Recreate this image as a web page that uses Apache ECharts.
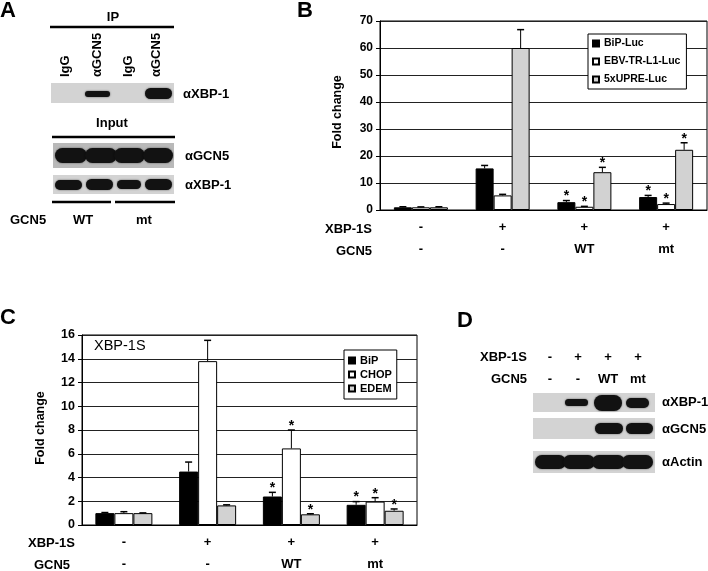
<!DOCTYPE html>
<html>
<head>
<meta charset="utf-8">
<script src="https://cdn.jsdelivr.net/npm/echarts@6/dist/echarts.min.js"></script>
<style>
  html, body { margin: 0; padding: 0; background: #fff; }
  #chart { width: 708px; height: 571px; }
</style>
</head>
<body>
<div id="chart"></div>
<script>
// row labels under the bars (shared by B and C)
const xbpRow = ['-', '+', '+', '+']
const gcn5Row = ['-', '-', 'WT', 'mt']

// panel B: luciferase reporters
const bNames = ['BiP-Luc', 'EBV-TR-L1-Luc', '5xUPRE-Luc']
const bipLuc = [1.0, 15.4, 2.9, 4.8]
const bipLucErr = [0.2, 1.1, 0.6, 0.6]
const ebvLuc = [1.0, 5.4, 1.2, 2.2]
const ebvLucErr = [0.15, 0.4, 0.15, 0.35]
const upreLuc = [1.0, 60.0, 14.0, 22.3]
const upreLucErr = [0.2, 6.8, 1.8, 2.6]
const bStars = [0, 0, 1, 1]
const bTicks = { min: 0, max: 70, interval: 10 }

// panel C: endogenous targets
const cNames = ['BiP', 'CHOP', 'EDEM']
const bip = [1.0, 4.5, 2.4, 1.7]
const bipErr = [0.05, 0.8, 0.35, 0.27]
const chop = [1.0, 13.8, 6.45, 1.97]
const chopErr = [0.12, 1.75, 1.55, 0.33]
const edem = [1.0, 1.65, 0.9, 1.2]
const edemErr = [0.02, 0.05, 0.05, 0.15]
const cStars = [0, 0, 1, 1]
const cTicks = { min: 0, max: 16, interval: 2 }

const FONT = 'Arial, "Liberation Sans", sans-serif'
const barFills = ['#000', '#fff', '#d2d2d2']

const chart = echarts.init(document.getElementById('chart'))

const text = (x, y, t, size, align = 'left', extra = {}) => ({
  type: 'text',
  x, y,
  rotation: extra.rotation || 0,
  style: {
    text: t,
    font: `${extra.weight || 'bold'} ${size}px ${FONT}`,
    fill: '#000',
    align,
    verticalAlign: extra.vAlign || 'middle'
  }
})

const line = (x1, y1, x2, y2, w = 1) => ({
  type: 'line',
  shape: { x1, y1, x2, y2 },
  style: { stroke: '#000', lineWidth: w }
})

// western blot strip: background plus rounded dark bands
const blot = (x, y, w, h, bands, bg = '#d3d3d3') => [
  { type: 'rect', shape: { x, y, width: w, height: h }, style: { fill: bg } },
  ...bands.map(b => ({
    type: 'rect',
    shape: { x: b[0], y: b[1], width: b[2] - b[0], height: b[3], r: b[3] / 2 },
    style: { fill: '#121212', shadowBlur: 2, shadowColor: 'rgba(0,0,0,0.6)' }
  }))
]

const errorSeries = (vals, errs, stars, pos, barW, axis, name) => ({
  type: 'custom',
  name,
  xAxisIndex: axis * 2,
  yAxisIndex: axis,
  z: 5,
  data: vals.map((v, i) => [i, v, errs[i], stars[i]]),
  renderItem: (params, api) => {
    const i = api.value(0)
    const v = api.value(1)
    const top = v + api.value(2)
    const base = api.coord([i, v])
    const hi = api.coord([i, top])
    const x = base[0] + pos * barW
    const children = [
      { type: 'line', shape: { x1: x, y1: base[1], x2: x, y2: hi[1] }, style: { stroke: '#000', lineWidth: 1 } },
      { type: 'line', shape: { x1: x - 3.5, y1: hi[1], x2: x + 3.5, y2: hi[1] }, style: { stroke: '#000', lineWidth: 1.5 } }
    ]
    if (api.value(3)) {
      children.push({
        type: 'text',
        x, y: hi[1] - 4,
        style: { text: '*', font: `bold 14px ${FONT}`, fill: '#000', align: 'center', verticalAlign: 'middle' }
      })
    }
    return { type: 'group', children }
  }
})

const barSeries = (name, vals, idx, axis, barW) => ({
  type: 'bar',
  name,
  xAxisIndex: axis * 2,
  yAxisIndex: axis,
  barWidth: barW,
  barGap: '0%',
  data: vals,
  itemStyle: { color: barFills[idx], borderColor: '#000', borderWidth: 1 }
})

const catAxes = (gridIndex) => [
  {
    type: 'category', gridIndex, data: xbpRow,
    axisLine: { lineStyle: { color: '#000', width: 1 } },
    axisTick: { length: 4, lineStyle: { color: '#000' } },
    axisLabel: { color: '#000', fontWeight: 'bold', fontSize: 13, fontFamily: FONT, margin: 11 }
  },
  {
    type: 'category', gridIndex, data: gcn5Row, position: 'bottom', offset: 22,
    axisLine: { show: false }, axisTick: { show: false },
    axisLabel: { color: '#000', fontWeight: 'bold', fontSize: 13, fontFamily: FONT, margin: 11 }
  }
]

const valAxis = (gridIndex, ticks, size) => ({
  type: 'value', gridIndex, ...ticks,
  axisLine: { show: true, lineStyle: { color: '#000' } },
  axisTick: { show: true, length: 4, lineStyle: { color: '#000' } },
  axisLabel: { color: '#000', fontWeight: 'bold', fontSize: size, fontFamily: FONT, margin: 7 },
  splitLine: { lineStyle: { color: '#222', width: 1 } }
})

const legendBox = (data, left, top, size, gap, pad) => ({
  data, left, top,
  orient: 'vertical',
  icon: 'rect',
  itemWidth: 6, itemHeight: 6, itemGap: gap,
  padding: pad,
  backgroundColor: '#fff',
  borderColor: '#000', borderWidth: 1,
  borderRadius: 0,
  textStyle: { color: '#000', fontWeight: 'bold', fontSize: size, fontFamily: FONT, lineHeight: 13 }
})

const graphics = [
  // panel letters
  text(0, 11, 'A', 22, 'left'),
  text(297, 11, 'B', 22, 'left'),
  text(0, 318, 'C', 22, 'left'),
  text(457, 321, 'D', 22, 'left'),

  // ---- panel A ----
  text(113, 17, 'IP', 13, 'center'),
  line(50, 27, 174, 27, 2.5),
  text(65, 77, 'IgG', 13, 'left', { rotation: Math.PI / 2 }),
  text(97, 77, 'αGCN5', 13, 'left', { rotation: Math.PI / 2 }),
  text(128, 77, 'IgG', 13, 'left', { rotation: Math.PI / 2 }),
  text(156, 77, 'αGCN5', 13, 'left', { rotation: Math.PI / 2 }),
  ...blot(51, 83, 123, 20, [[85, 91, 110, 6], [145, 88, 172, 11]]),
  text(183, 94, 'αXBP-1', 13),
  text(112, 123, 'Input', 13, 'center'),
  line(52, 137, 175, 137, 2.5),
  ...blot(53, 143, 121, 25, [[55, 148, 87, 15], [85, 148, 117, 15], [114, 148, 145, 15], [143, 148, 173, 15]], '#b9b9b9'),
  text(185, 156, 'αGCN5', 13),
  ...blot(53, 175, 121, 19, [[55, 180, 82, 10], [86, 179, 113, 11], [117, 180, 141, 9], [145, 179, 172, 11]]),
  text(185, 185, 'αXBP-1', 13),
  line(52, 202, 111, 202, 2.5),
  line(115, 202, 175, 202, 2.5),
  text(10, 220, 'GCN5', 13),
  text(83, 220, 'WT', 13, 'center'),
  text(144, 220, 'mt', 13, 'center'),

  // ---- panel B row headers ----
  text(372, 229, 'XBP-1S', 13, 'right'),
  text(372, 251, 'GCN5', 13, 'right'),
  text(338, 112, 'Fold change', 12.5, 'center', { rotation: Math.PI / 2 }),

  // ---- panel C ----
  text(75, 543, 'XBP-1S', 13, 'right'),
  text(70, 565, 'GCN5', 13, 'right'),
  text(41, 428, 'Fold change', 12.5, 'center', { rotation: Math.PI / 2 }),
  text(94, 346, 'XBP-1S', 14.5, 'left', { weight: 'normal' }),

  // ---- panel D ----
  text(527, 357, 'XBP-1S', 13, 'right'),
  text(527, 379, 'GCN5', 13, 'right'),
  text(550, 357, '-', 13, 'center'),
  text(578, 357, '+', 13, 'center'),
  text(608, 357, '+', 13, 'center'),
  text(638, 357, '+', 13, 'center'),
  text(550, 379, '-', 13, 'center'),
  text(578, 379, '-', 13, 'center'),
  text(608, 379, 'WT', 13, 'center'),
  text(638, 379, 'mt', 13, 'center'),
  ...blot(533, 393, 122, 19, [[565, 399, 588, 7], [594, 395, 622, 16], [626, 398, 649, 10]]),
  text(662, 402, 'αXBP-1', 13),
  ...blot(533, 418, 122, 21, [[595, 423, 623, 11], [626, 423, 653, 11]]),
  text(662, 429, 'αGCN5', 13),
  ...blot(533, 451, 122, 22, [[535, 455, 566, 14], [563, 455, 595, 14], [592, 455, 625, 14], [622, 455, 653, 14]]),
  text(662, 462, 'αActin', 13)
]

chart.setOption({
  animation: false,
  backgroundColor: '#fff',
  grid: [
    { left: 380, top: 21, width: 327, height: 189, show: true, borderColor: '#000', borderWidth: 1, backgroundColor: 'transparent' },
    { left: 82, top: 335, width: 335, height: 190, show: true, borderColor: '#000', borderWidth: 1, backgroundColor: 'transparent' }
  ],
  xAxis: [...catAxes(0), ...catAxes(1)],
  yAxis: [valAxis(0, bTicks, 12), valAxis(1, cTicks, 12.5)],
  legend: [
    legendBox(bNames, 588, 34, 10.5, 5, [3, 6, 3, 4]),
    legendBox(cNames, 344, 350, 11, 1, [4, 5, 4, 4])
  ],
  series: [
    barSeries(bNames[0], bipLuc, 0, 0, 18),
    barSeries(bNames[1], ebvLuc, 1, 0, 18),
    barSeries(bNames[2], upreLuc, 2, 0, 18),
    errorSeries(bipLuc, bipLucErr, bStars, -1, 18, 0, 'errB0'),
    errorSeries(ebvLuc, ebvLucErr, bStars, 0, 18, 0, 'errB1'),
    errorSeries(upreLuc, upreLucErr, bStars, 1, 18, 0, 'errB2'),
    barSeries(cNames[0], bip, 0, 1, 19),
    barSeries(cNames[1], chop, 1, 1, 19),
    barSeries(cNames[2], edem, 2, 1, 19),
    errorSeries(bip, bipErr, cStars, -1, 19, 1, 'errC0'),
    errorSeries(chop, chopErr, cStars, 0, 19, 1, 'errC1'),
    errorSeries(edem, edemErr, cStars, 1, 19, 1, 'errC2')
  ],
  graphic: graphics
})
</script>
</body>
</html>
